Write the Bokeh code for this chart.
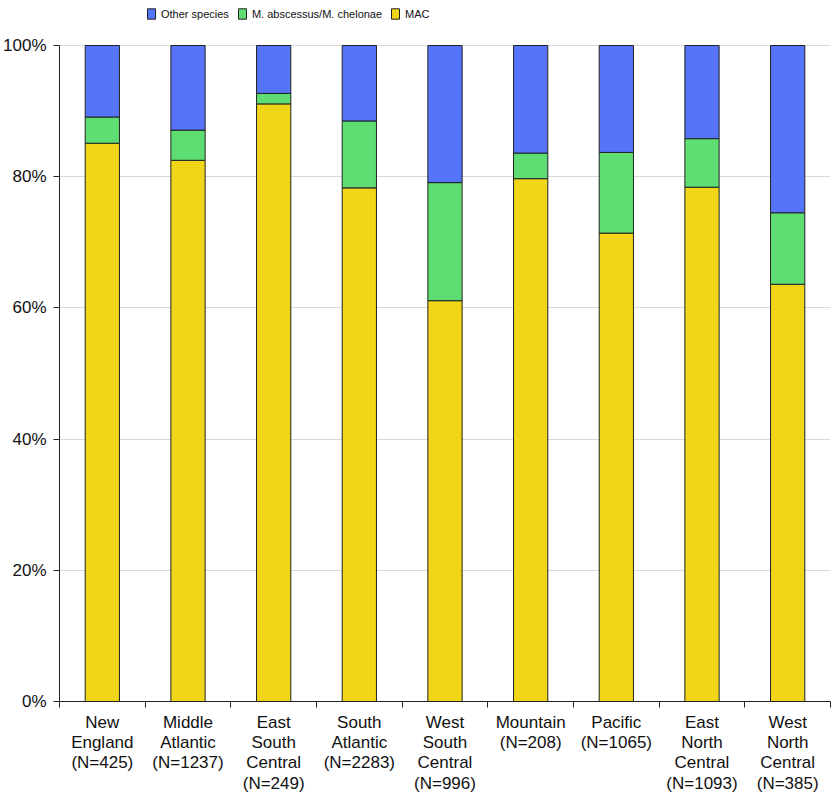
from bokeh.plotting import figure
from bokeh.models import (FixedTicker, PrintfTickFormatter, Legend, LegendItem,
                          ColumnDataSource, Range1d)
from bokeh.embed import file_html
from bokeh.resources import INLINE

# ---- data ----
regions = [
    "New\nEngland\n(N=425)",
    "Middle\nAtlantic\n(N=1237)",
    "East\nSouth\nCentral\n(N=249)",
    "South\nAtlantic\n(N=2283)",
    "West\nSouth\nCentral\n(N=996)",
    "Mountain\n(N=208)",
    "Pacific\n(N=1065)",
    "East\nNorth\nCentral\n(N=1093)",
    "West\nNorth\nCentral\n(N=385)",
]
mac = [85.1, 82.5, 91.1, 78.3, 61.1, 79.7, 71.4, 78.4, 63.6]
abscessus = [4.0, 4.6, 1.6, 10.2, 18.0, 3.9, 12.3, 7.4, 10.9]
other = [10.9, 12.9, 7.3, 11.5, 20.9, 16.4, 16.3, 14.2, 25.5]
series_names = ["MAC", "M. abscessus/M. chelonae", "Other species"]
series_colors = ["#F0D518", "#5EDE72", "#5574FA"]
y_ticks = [0, 20, 40, 60, 80, 100]

xs = [i + 0.5 for i in range(len(regions))]
bounds = list(range(len(regions) + 1))

source = ColumnDataSource(dict(x=xs, mac=mac, abscessus=abscessus, other=other))

W, H = 831, 795
B_LEFT, B_TOP, B_BOTTOM, B_RIGHT = 58, 0, 94, 1
TOP_GAP = 45  # space above the 100% line, holding the legend
frame_h = H - B_TOP - B_BOTTOM
y_end = 100.0 * frame_h / (frame_h - TOP_GAP)

p = figure(width=W, height=H, output_backend="svg", toolbar_location=None,
           x_range=Range1d(0, len(regions)), y_range=Range1d(0, y_end),
           min_border_left=B_LEFT, min_border_right=B_RIGHT,
           min_border_top=B_TOP, min_border_bottom=B_BOTTOM)
p.outline_line_color = None
p.background_fill_color = "white"

renderers = p.vbar_stack(["mac", "abscessus", "other"], x="x", width=0.4,
                         color=series_colors, line_color="#222222",
                         line_width=1, source=source)

# x axis
p.xaxis.ticker = FixedTicker(ticks=xs, minor_ticks=bounds)
p.xaxis.major_label_overrides = {x: lab for x, lab in zip(xs, regions)}
p.xaxis.major_tick_out = 0
p.xaxis.major_tick_in = 0
p.xaxis.minor_tick_out = 6
p.xaxis.minor_tick_in = 0
p.xaxis.major_label_standoff = 5
p.xaxis.major_label_text_font = "Liberation Sans"
p.xaxis.major_label_text_font_size = "17px"
p.xaxis.major_label_text_line_height = 1.075
p.xaxis.major_label_text_color = "#111111"
p.xaxis.axis_line_color = "#222222"
p.xaxis.minor_tick_line_color = "#222222"

# y axis
p.yaxis.ticker = FixedTicker(ticks=y_ticks)
p.yaxis.bounds = (0, 100)
p.yaxis.formatter = PrintfTickFormatter(format="%d%%")
p.yaxis.major_tick_out = 6
p.yaxis.major_tick_in = 0
p.yaxis.minor_tick_line_color = None
p.yaxis.major_label_standoff = 7
p.yaxis.major_label_text_font = "Liberation Sans"
p.yaxis.major_label_text_font_size = "17px"
p.yaxis.major_label_text_color = "#111111"
p.yaxis.axis_line_color = "#222222"
p.yaxis.major_tick_line_color = "#222222"

p.xgrid.visible = False
p.ygrid.ticker = FixedTicker(ticks=y_ticks)
p.ygrid.grid_line_color = "#d9d9d9"

# legend location is its bottom-left corner, relative to the frame's bottom-left
legend = Legend(
    items=[LegendItem(label=series_names[2], renderers=[renderers[2]]),
           LegendItem(label=series_names[1], renderers=[renderers[1]]),
           LegendItem(label=series_names[0], renderers=[renderers[0]])],
    orientation="horizontal", location=(145 - B_LEFT, frame_h - 20),
    border_line_color=None, background_fill_alpha=0,
    padding=0, margin=0, spacing=8, label_standoff=5,
    glyph_width=10, glyph_height=13, label_height=13,
    label_text_font="Liberation Sans", label_text_font_size="11px",
    label_text_color="#111111",
)
p.add_layout(legend, "center")

open("out.html", "w").write(file_html(p, INLINE))
